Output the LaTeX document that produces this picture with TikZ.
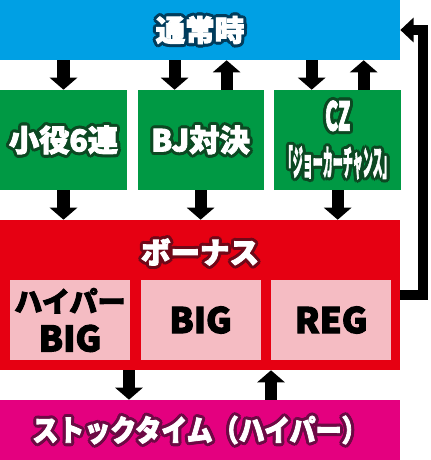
\documentclass[tikz,border=0pt]{standalone}
\usepackage{fontspec}
\usepackage{graphicx}
\usetikzlibrary{positioning, arrows.meta}
\newfontfamily\jpfont{Noto Sans CJK JP}[BoldFeatures={FakeBold=3}]
\definecolor{normalblue}{RGB}{0,160,228}
\definecolor{normaledge}{RGB}{0,60,92}
\definecolor{stepgreen}{RGB}{0,153,68}
\definecolor{stepedge}{RGB}{12,72,34}
\definecolor{bonusred}{RGB}{230,0,18}
\definecolor{bonusedge}{RGB}{112,8,24}
\definecolor{bonuspink}{RGB}{245,188,195}
\definecolor{stockmag}{RGB}{228,0,127}
\definecolor{stockedge}{RGB}{108,10,68}
% white letters with a dark rim
\newlength\edgesize
\setlength\edgesize{2.2pt}
\newcommand\edgetext[2]{%
    \setbox0=\hbox{#2}%
    \leavevmode\hbox{%
        \foreach \a in {0,30,...,330}{%
            \pgfmathsetlengthmacro\dx{\edgesize*cos(\a)}%
            \pgfmathsetlengthmacro\dy{\edgesize*sin(\a)}%
            \rlap{\kern\dx\raise\dy\hbox{\color{#1}\copy0}}}%
        \color{white}\box0}}
\tikzset{
    bar/.style={rectangle, inner sep=0pt, minimum width=10cm, minimum height=1.5cm, font=\jpfont\bfseries\fontsize{21}{24}\selectfont},
    stepbox/.style={rectangle, fill=stepgreen, inner sep=0pt, minimum height=2.5cm, align=center, font=\jpfont\bfseries\fontsize{21.5}{24}\selectfont},
    kind/.style={rectangle, fill=bonuspink, inner sep=0pt, minimum width=3cm, minimum height=2cm, align=center, font=\jpfont\bfseries\fontsize{25}{28}\selectfont},
    flow/.style={-{Triangle[width=0.675cm, length=0.3cm]}, line width=0.3cm},
    back/.style={-{Triangle[width=0.6cm, length=0.33cm]}, line width=0.25cm}
}
\begin{document}
\begin{tikzpicture}[x=0.025cm, y=-0.025cm]
        \useasboundingbox (0,0) rectangle (430,460);

        % Normal state
        \node[bar, fill=normalblue] (normal) at (200,30) {\edgetext{normaledge}{通常時}};

        % Entry routes
        \node[stepbox, minimum width=3.175cm] (g1) at (63.5,140) {\edgetext{stepedge}{小役6連}};
        \node[stepbox, minimum width=3.15cm, right=0.25cm of g1] (g2) {\edgetext{stepedge}{BJ対決}};
        \node[stepbox, minimum width=3.175cm, right=0.25cm of g2, font=\jpfont\bfseries\fontsize{25}{32}\selectfont] (g3)
            {\edgetext{stepedge}{\scalebox{0.5}[1]{\fontsize{28}{30}\selectfont CZ}}\\
             \edgetext{stepedge}{\scalebox{0.285}[1]{「ジョーカーチャンス」}}};

        % Bonus
        \node[bar, fill=bonusred, minimum height=3.75cm] (bonus) at (200,295) {};
        \node[font=\jpfont\bfseries\fontsize{21}{24}\selectfont] (bonustitle) at (200,252) {\edgetext{bonusedge}{ボーナス}};
        \node[kind] (hyper) at (70,320) {{\fontsize{20}{24}\selectfont ハイパー}\\BIG};
        \node[kind, right=0.25cm of hyper] (big) {BIG};
        \node[kind, right=0.25cm of big] (reg) {REG};

        % Stock time
        \node[bar, fill=stockmag] (stock) at (200,430) {\edgetext{stockedge}{\scalebox{0.88}[1]{ストックタイム（ハイパー）}}};

        % Arrow ends
        \coordinate (g2in) at ([xshift=-0.65cm]g2.north);
        \coordinate (g2out) at ([xshift=0.65cm]g2.north);
        \coordinate (g3in) at ([xshift=-0.65cm]g3.north);
        \coordinate (g3out) at ([xshift=0.65cm]g3.north);
        \coordinate (stockin) at ([xshift=-1.775cm]stock.north);
        \coordinate (stockout) at ([xshift=1.775cm]stock.north);

        % Edges
        \draw[flow] (g1.north |- normal.south) -- (g1.north);
        \draw[flow] (g2in |- normal.south) -- (g2in);
        \draw[flow] (g2out) -- (g2out |- normal.south);
        \draw[flow] (g3in |- normal.south) -- (g3in);
        \draw[flow] (g3out) -- (g3out |- normal.south);
        \draw[flow] (g1.south) -- (g1.south |- bonus.north);
        \draw[flow] (g2.south) -- (g2.south |- bonus.north);
        \draw[flow] (g3.south) -- (g3.south |- bonus.north);
        \draw[flow] (stockin |- bonus.south) -- (stockin);
        \draw[flow] (stockout) -- (stockout |- bonus.south);

        % Back to normal
        \draw[back] (bonus.east) -- ++(23,0) |- (normal.east);

    \end{tikzpicture}
\end{document}
